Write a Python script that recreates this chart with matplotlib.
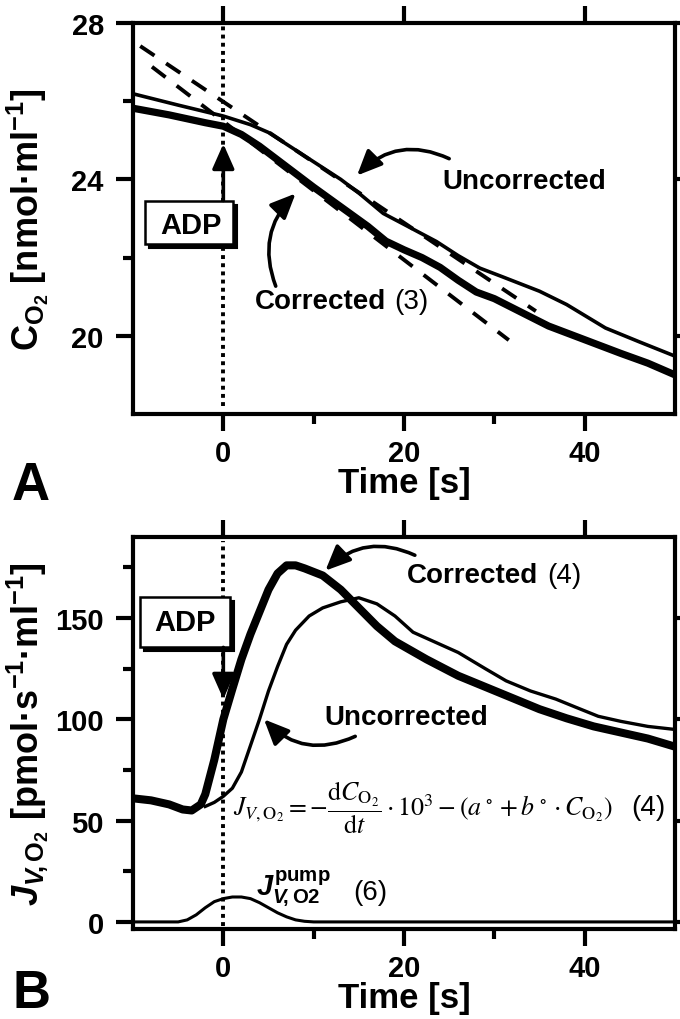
import matplotlib
matplotlib.use("Agg")
import matplotlib.pyplot as plt
from matplotlib.patches import Rectangle
from matplotlib.transforms import offset_copy

plt.rcParams['font.family'] = ['Liberation Sans', 'DejaVu Sans']
plt.rcParams['mathtext.fontset'] = 'custom'
plt.rcParams['mathtext.rm'] = 'Liberation Sans:bold'
plt.rcParams['mathtext.it'] = 'Liberation Sans:italic:bold'
plt.rcParams['mathtext.bf'] = 'Liberation Sans:bold'
plt.rcParams['mathtext.sf'] = 'Liberation Sans:bold'

# ---------------- data ----------------
adp_time = 0.0

# Panel A: oxygen concentration [nmol/ml]
t_corr_A = [-10, -6, -2, 0, 2, 4, 6, 8, 10, 13, 16, 18, 20, 22, 24, 26, 28, 30, 33, 36, 40, 44, 47, 50]
c_corr_A = [25.82, 25.65, 25.45, 25.36, 25.15, 24.85, 24.5, 24.15, 23.8, 23.3, 22.8, 22.42, 22.2, 22.0,
            21.75, 21.42, 21.12, 20.95, 20.6, 20.25, 19.9, 19.55, 19.3, 19.0]
t_unc_A = [-10, -5, 0, 3, 5, 8, 10, 13, 15, 17.7, 20, 23.6, 26, 28.4, 31, 35, 38, 42.3, 46, 50]
c_unc_A = [26.19, 25.9, 25.62, 25.4, 25.2, 24.75, 24.45, 24.0, 23.65, 23.13, 22.85, 22.41, 22.05,
           21.73, 21.5, 21.14, 20.8, 20.2, 19.85, 19.48]
tan_steep_t = [-7.9, 31.6]
tan_steep_c = [26.88, 19.89]
tan_shallow_t = [-9.2, 34.6]
tan_shallow_c = [27.41, 20.63]

# Panel B: oxygen flux [pmol/(s*ml)]
t_corr_B = [-10, -8, -6, -4.5, -3.5, -2.5, -2, -1, 0, 1, 2, 3, 4, 5, 6, 7, 8, 9, 11, 13, 15, 17, 19,
            22.5, 26, 29, 32, 35, 38, 41, 44, 47, 50]
j_corr_B = [61, 60, 58, 55.5, 55, 58, 63, 80, 100, 115, 129.6, 142, 153, 164, 172, 176, 176, 174.5,
            171, 164, 155, 146, 138.5, 129.6, 121.5, 116, 110.5, 105, 100.5, 96.5, 93.5, 90.5, 86.5]
t_unc_B = [-2, -1, 0, 1, 2, 3, 4, 5, 6, 7, 8, 9.5, 11, 13, 15, 17, 19, 21, 23, 26, 29, 31.3, 34,
           36.8, 39, 41.5, 44, 47, 50]
j_unc_B = [57, 59, 62, 66, 74, 87, 100, 114, 126, 137, 144, 151, 155, 158, 160, 157, 151, 143, 139,
           133, 125, 119, 114, 110, 106, 101.5, 99, 96.5, 95]
t_pump = [-10, -5, -4, -3, -2, -1, 0, 1, 2, 3, 4, 5, 6, 7, 8, 9, 10, 50]
j_pump = [0, 0, 1, 3.5, 7, 10, 11.5, 12.3, 12.3, 11.5, 9.5, 7, 4.5, 2.5, 1, 0.3, 0, 0]

time_ticks = [0, 20, 40]
time_minor = [10, 30]
conc_ticks = [20, 24, 28]
conc_minor = [22, 26]
flux_ticks = [0, 50, 100, 150]
flux_minor = [25, 75, 125, 175]

# ---------------- figure ----------------
W, H = 680, 1020
fig = plt.figure(figsize=(W / 100, H / 100), dpi=100)
axA = fig.add_axes([133 / W, 1 - 415 / H, 542 / W, 391 / H])
axB = fig.add_axes([133 / W, 1 - 930 / H, 542 / W, 392 / H])


def style_axes(ax, yt, ymin):
    for s in ax.spines.values():
        s.set_linewidth(3.0)
    ax.set_xlim(-10, 50)
    ax.set_xticks(time_ticks)
    ax.set_xticks(time_minor, minor=True)
    ax.set_yticks(yt)
    ax.set_yticks(ymin, minor=True)
    ax.tick_params(which='major', direction='out', length=12, width=3, labelsize=21,
                   top=True, right=True, labeltop=False, labelright=False)
    ax.tick_params(which='minor', direction='out', length=7, width=3,
                   top=False, right=False)
    ax.tick_params(axis='x', which='major', pad=6)
    ax.tick_params(axis='y', which='major', pad=9)
    plt.setp(ax.get_xticklabels() + ax.get_yticklabels(), fontweight='bold')
    ax.set_xlabel('Time [s]', fontsize=25, fontweight='bold', labelpad=-1)


def adp_box(ax, x0, y0, w, h, tx, ty):
    shadow = Rectangle((x0, y0), w, h, transform=offset_copy(ax.transAxes, fig=fig, x=4, y=-4, units='dots'),
                       facecolor='black', edgecolor='black', lw=1.5, zorder=6, clip_on=False)
    box = Rectangle((x0, y0), w, h, transform=ax.transAxes, facecolor='white',
                    edgecolor='black', lw=1.8, zorder=7, clip_on=False)
    ax.add_patch(shadow)
    ax.add_patch(box)
    ax.text(tx, ty, 'ADP', transform=ax.transAxes, fontsize=21, fontweight='bold',
            ha='center', va='center', zorder=8)


arrow_kw = dict(arrowstyle='-|>,head_length=0.95,head_width=0.42', mutation_scale=16,
                color='black', lw=2.6, shrinkA=0, shrinkB=0)
dot_style = dict(color='black', lw=2.8, linestyle=(0, (1, 1.1)), dash_capstyle='butt', zorder=1)

# ---------------- Panel A ----------------
style_axes(axA, conc_ticks, conc_minor)
axA.set_ylim(18, 28)
axA.plot(t_corr_A, c_corr_A, color='black', lw=5.2, solid_joinstyle='round', solid_capstyle='butt', zorder=3)
axA.plot(t_unc_A, c_unc_A, color='black', lw=2.6, solid_joinstyle='round', zorder=3)
axA.plot(tan_steep_t, tan_steep_c, color='black', lw=2.8, linestyle=(0, (4.4, 3.6)), zorder=2)
axA.plot(tan_shallow_t, tan_shallow_c, color='black', lw=2.8, linestyle=(0, (4.4, 3.6)), zorder=2)
axA.axvline(adp_time, ymin=0.02, ymax=1.0, **dot_style)
axA.set_ylabel(r'$\mathrm{C_{O_2}}$ [nmol·ml$^{\mathrm{-1}}$]', fontsize=26, fontweight='bold')
axA.yaxis.set_label_coords(-0.152, 0.5)

adp_box(axA, 0.0221, 0.4348, 0.1624, 0.11, 0.107, 0.483)
axA.annotate('', xy=(adp_time, 24.91), xytext=(adp_time, 23.46), arrowprops=arrow_kw, zorder=9)

axA.text(33.3, 23.97, 'Uncorrected', fontsize=20, fontweight='bold', ha='center', va='center')
axA.annotate('', xy=(14.8, 24.1), xytext=(25.0, 24.53),
             arrowprops=dict(connectionstyle='arc3,rad=0.35', **arrow_kw))
axA.text(18.0, 20.88, 'Corrected', fontsize=20, fontweight='bold', ha='right', va='center')
axA.annotate('(3)', xy=(18.0, 20.88), xytext=(6, 0), textcoords='offset points',
             fontsize=20, ha='left', va='center')
axA.annotate('', xy=(8.0, 23.64), xytext=(5.8, 21.27),
             arrowprops=dict(connectionstyle='arc3,rad=-0.32', **arrow_kw))

# ---------------- Panel B ----------------
style_axes(axB, flux_ticks, flux_minor)
axB.set_ylim(-3.5, 190)
axB.plot(t_corr_B, j_corr_B, color='black', lw=5.8, solid_joinstyle='round', solid_capstyle='butt', zorder=3)
axB.plot(t_unc_B, j_unc_B, color='black', lw=2.4, solid_joinstyle='round', zorder=3)
axB.plot(t_pump, j_pump, color='black', lw=2.2, solid_joinstyle='round', zorder=3)
axB.axvline(adp_time, ymin=0.008, ymax=0.99, **dot_style)
axB.set_ylabel(r'$J_{V\!,\mathrm{O_2}}$ [pmol·s$^{\mathrm{-1}}$·ml$^{\mathrm{-1}}$]', fontsize=26,
               fontweight='bold')
axB.yaxis.set_label_coords(-0.152, 0.5)

adp_box(axB, 0.0129, 0.719, 0.166, 0.128, 0.096, 0.783)
axB.annotate('', xy=(adp_time, 110), xytext=(adp_time, 135.5), arrowprops=arrow_kw, zorder=9)

axB.text(34.9, 171.4, 'Corrected', fontsize=20, fontweight='bold', ha='right', va='center')
axB.annotate('(4)', xy=(34.9, 171.4), xytext=(6, 0), textcoords='offset points',
             fontsize=20, ha='left', va='center')
axB.annotate('', xy=(11.3, 173.4), xytext=(21.2, 181),
             arrowprops=dict(connectionstyle='arc3,rad=0.34', **arrow_kw))

axB.text(20.2, 101, 'Uncorrected', fontsize=20, fontweight='bold', ha='center', va='center')
axB.annotate('', xy=(4.5, 100), xytext=(14.6, 91.6),
             arrowprops=dict(connectionstyle='arc3,rad=-0.35', **arrow_kw))

axB.text(1.1, 56.7,
         r'$J_{V,\mathrm{O}_2}=-\dfrac{\mathrm{d}C_{\mathrm{O}_2}}{\mathrm{d}t}\cdot10^3-(a^\circ+b^\circ\cdot C_{\mathrm{O}_2})$',
         math_fontfamily='stix', fontsize=18.6, ha='left', va='center')
axB.text(47.1, 56.7, '(4)', fontsize=20, ha='center', va='center')
axB.text(3.6, 17, r'$J^{\mathrm{pump}}_{V\!,\mathrm{O2}}$', fontsize=21, ha='left', va='center')
axB.text(14.4, 14.8, '(6)', fontsize=20, ha='left', va='center')

# panel letters
fig.text(12 / W, 1 - 500 / H, 'A', fontsize=38, fontweight='bold', ha='left', va='baseline')
fig.text(12 / W, 1 - 1019 / H, 'B', fontsize=38, fontweight='bold', ha='left', va='bottom')

fig.savefig('out.png', dpi=100)
